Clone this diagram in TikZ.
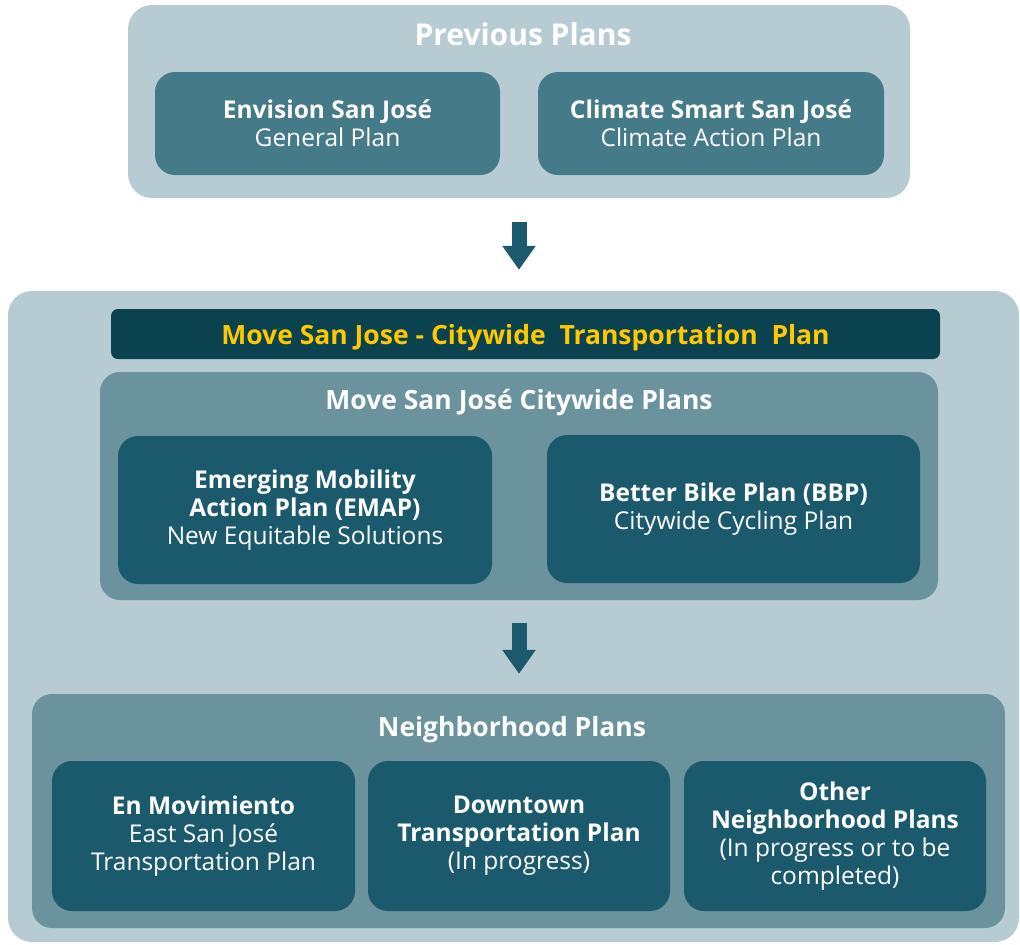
\documentclass[tikz,border=0pt]{standalone}
\usepackage{fontspec}
\setmainfont{Open Sans}
\usepackage{tikz}
\usetikzlibrary{arrows.meta}
\usetikzlibrary{positioning}
\definecolor{paleblue}{HTML}{B7CCD2}
\definecolor{midteal}{HTML}{457A89}
\definecolor{greyteal}{HTML}{6A939E}
\definecolor{darkteal}{HTML}{1B5A6D}
\definecolor{nightteal}{HTML}{0A4250}
\definecolor{signyellow}{HTML}{FFC800}
\tikzset{outer box/.style={fill=paleblue, rounded corners=24pt, inner sep=0pt}}
\tikzset{group box/.style={fill=greyteal, rounded corners=20pt, inner sep=0pt}}
\tikzset{
    plan box/.style 2 args={
            fill=#1, rounded corners=20pt, text=white, align=center,
            font=\fontsize{24.5}{28}\selectfont,
            minimum width=#2, minimum height=150pt, inner sep=0pt
        }
}
\tikzset{title/.style={text=white, font=\fontsize{26.5}{30}\selectfont\bfseries}}
\tikzset{fat arrow/.style={draw=darkteal, line width=15pt, -{Triangle[width=32pt,length=24pt]}}}

\begin{document}
\begin{tikzpicture}[x=1pt, y=-1pt]
            \useasboundingbox (0,0) rectangle (1020,945);
            \clip (0,0) rectangle (1020,945);
            \node[outer box, minimum width=782pt, minimum height=193pt] (prev) at (519,101.5) {};
            \node[title, font=\fontsize{30}{34}\selectfont\bfseries] (prevt) at (523,34) {Previous Plans};
            \node[plan box={midteal}{345pt}, minimum height=103pt] (gp) at (327.5,123.5) {\textbf{Envision San José}\\General Plan};
            \node[plan box={midteal}{346pt}, minimum height=103pt] (cap) at (711,123.5) {\textbf{Climate Smart San José}\\Climate Action Plan};
            \node[outer box, minimum width=1011pt, minimum height=651pt] (move) at (513.5,616.5) {};
            \node[fill=nightteal, rounded corners=7pt, minimum width=829pt, minimum height=50pt, text=signyellow, text depth=0pt,
                font=\fontsize{26.5}{30}\selectfont\bfseries] (banner) at (525.5,334) {Move San Jose - Citywide\ \ Transportation\ \ Plan};
            \node[group box, minimum width=838pt, minimum height=228pt] (city) at (519,486) {};
            \node[title] (cityt) at (519,403) {Move San José Citywide Plans};
            \node[plan box={darkteal}{374pt}, minimum height=148pt] (emap) at (305,510) {\textbf{Emerging Mobility}\\\textbf{Action Plan (EMAP)}\\New Equitable Solutions};
            \node[plan box={darkteal}{373pt}, minimum height=148pt] (bbp) at (733.5,509) {\textbf{Better Bike Plan (BBP)}\\Citywide Cycling Plan};
            \node[group box, minimum width=973pt, minimum height=234pt] (hood) at (518.5,811) {};
            \node[title] (hoodt) at (512,730) {Neighborhood Plans};
            \node[plan box={darkteal}{303pt}] (enm) at (203.5,836) {\textbf{En Movimiento}\\East San José\\Transportation Plan};
            \node[plan box={darkteal}{302pt}] (dtp) at (519,836) {\textbf{Downtown}\\\textbf{Transportation Plan}\\(In progress)};
            \node[plan box={darkteal}{302pt}] (onp) at (835,836) {\textbf{Other}\\\textbf{Neighborhood Plans}\\(In progress or to be\\completed)};
            \draw[fat arrow, shorten <=24pt, shorten >=21pt] (prev.south) -- (prev.south |- move.north);
            \draw[fat arrow, shorten <=23pt, shorten >=20pt] (city.south) -- (city.south |- hood.north);
        \end{tikzpicture}
\end{document}
